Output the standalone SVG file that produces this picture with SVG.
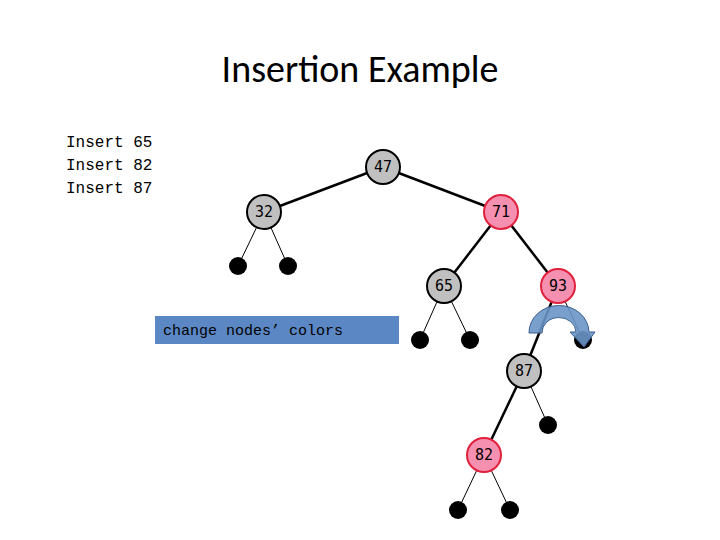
<svg xmlns="http://www.w3.org/2000/svg" width="720" height="540" viewBox="0 0 720 540">
<style>
.n circle{stroke:#000;stroke-width:2}
.g circle{fill:#c0c0c0}
.r circle{fill:#f590b0;stroke:#e0203c}
.n text{font-family:"DejaVu Sans Mono","Liberation Mono",monospace;font-size:15px;text-anchor:middle;dominant-baseline:central}
.leaf{fill:#000}
.e{stroke:#000;stroke-width:2.5}
.t{stroke:#000;stroke-width:1}
.mono{font-family:"Liberation Mono",monospace;font-size:16px}
</style>
<rect width="720" height="540" fill="#fff"/>
<text x="360" y="82" font-family="Carlito,'Liberation Sans',sans-serif" font-size="38" text-anchor="middle">Insertion Example</text>
<text class="mono" x="66" y="147">Insert 65</text>
<text class="mono" x="66" y="170">Insert 82</text>
<text class="mono" x="66" y="193">Insert 87</text>
<g id="connectors">
<line class="e" x1="383" y1="167" x2="264" y2="212"/>
<line class="e" x1="383" y1="167" x2="501" y2="212"/>
<line class="t" x1="264" y1="212" x2="238" y2="266"/>
<line class="t" x1="264" y1="212" x2="288" y2="266"/>
<line class="e" x1="501" y1="212" x2="444" y2="286"/>
<line class="e" x1="501" y1="212" x2="558" y2="286"/>
<line class="t" x1="444" y1="286" x2="420" y2="340"/>
<line class="t" x1="444" y1="286" x2="470" y2="340"/>
<line class="e" x1="558" y1="286" x2="524" y2="371"/>
<line class="t" x1="558" y1="286" x2="583" y2="340"/>
<line class="e" x1="524" y1="371" x2="484" y2="455"/>
<line class="t" x1="524" y1="371" x2="548" y2="425"/>
<line class="t" x1="484" y1="455" x2="458" y2="510"/>
<line class="t" x1="484" y1="455" x2="510" y2="510"/>
</g>
<g id="leaves">
<circle class="leaf" cx="238" cy="266" r="9"/><circle class="leaf" cx="288" cy="266" r="9"/>
<circle class="leaf" cx="420" cy="340" r="9"/><circle class="leaf" cx="470" cy="340" r="9"/>
<circle class="leaf" cx="583" cy="340" r="9"/><circle class="leaf" cx="548" cy="425" r="9"/>
<circle class="leaf" cx="458" cy="510" r="9"/><circle class="leaf" cx="510" cy="510" r="9"/>
</g>
<g id="n47" class="n g"><circle cx="383" cy="167" r="17"/><text x="383" y="167">47</text></g>
<g id="n32" class="n g"><circle cx="264" cy="212" r="17"/><text x="264" y="212">32</text></g>
<g id="n71" class="n r"><circle cx="501" cy="212" r="17"/><text x="501" y="212">71</text></g>
<g id="n65" class="n g"><circle cx="444" cy="286" r="17"/><text x="444" y="286">65</text></g>
<g id="n93" class="n r"><circle cx="558" cy="286" r="17"/><text x="558" y="286">93</text></g>
<g id="n87" class="n g"><circle cx="524" cy="371" r="17"/><text x="524" y="371">87</text></g>
<g id="n82" class="n r"><circle cx="484" cy="455" r="17"/><text x="484" y="455">82</text></g>
<path d="M529,333 A30,27 0 0 1 589,332 L595,332 L584,347 L570,332 L576,332 A17,15 0 0 0 542,333 Z" fill="#6a95c8" fill-opacity="0.9" stroke="#3a5f8f" stroke-width="1"/>
<g id="note">
<rect x="155" y="316" width="244" height="28" fill="#5b88c4"/>
<text x="163" y="335" font-family="Liberation Mono,monospace" font-size="15">change nodes’ colors</text>
</g>
</svg>
